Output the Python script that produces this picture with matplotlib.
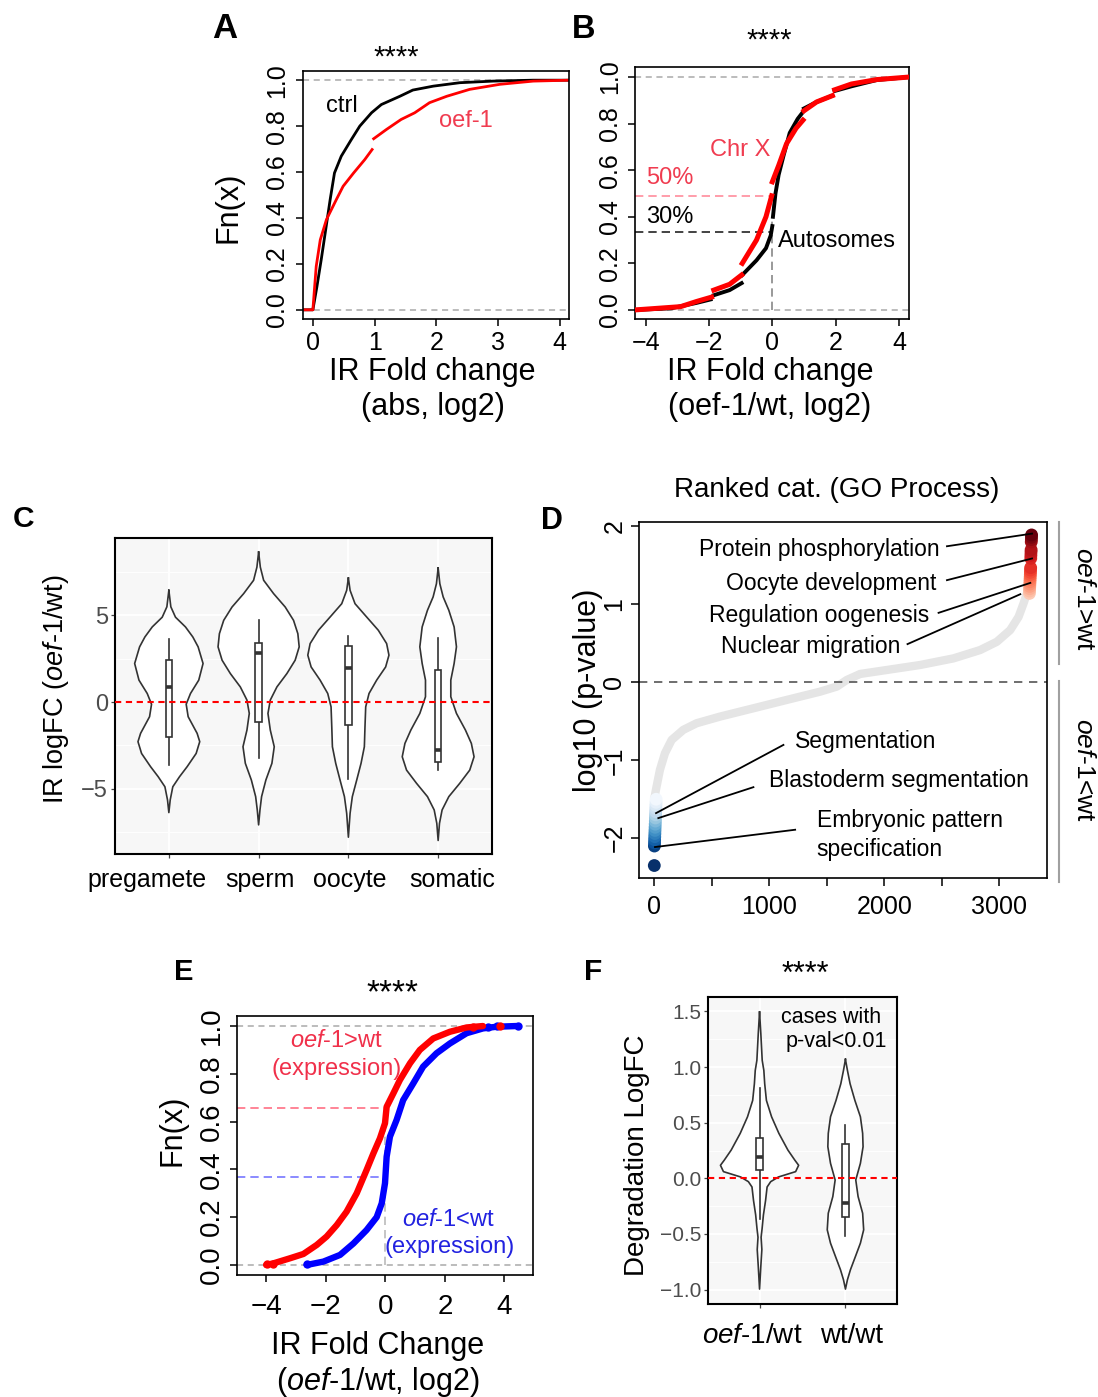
import numpy as np
import matplotlib
matplotlib.use('Agg')
import matplotlib.pyplot as plt
from matplotlib.patches import Rectangle
from matplotlib.transforms import ScaledTranslation

plt.rcParams['font.family'] = ['Liberation Sans', 'DejaVu Sans']
plt.rcParams['mathtext.fontset'] = 'custom'
plt.rcParams['mathtext.rm'] = 'Liberation Sans'
plt.rcParams['mathtext.it'] = 'Liberation Sans:italic'
plt.rcParams['mathtext.bf'] = 'Liberation Sans:bold'
plt.rcParams['axes.unicode_minus'] = True

nan = np.nan

# ---------------- Panel A : ECDF of |IR fold change| ----------------
a_ctrl_x = [-0.16, 0.0, 0.065, 0.135, 0.20, 0.28, 0.35, 0.46, 0.62, 0.76, 0.95, 1.11, 1.41, 1.62, 1.95, 2.38, 2.92, 3.57, 4.16]
a_ctrl_y = [0.0, 0.0, 0.10, 0.218, 0.335, 0.48, 0.596, 0.669, 0.74, 0.80, 0.858, 0.894, 0.93, 0.957, 0.974, 0.989, 0.996, 1.0, 1.0]
a_oef_x = [-0.16, 0.0, 0.054, 0.12, 0.22, 0.38, 0.49, 0.66, 0.84, 0.96, nan, 0.985, 1.19, 1.43, 1.65, 1.89, 2.17, 2.54, 3.03, 3.57, 4.16]
a_oef_y = [0.0, 0.0, 0.189, 0.305, 0.393, 0.48, 0.538, 0.596, 0.654, 0.698, nan, 0.745, 0.785, 0.829, 0.858, 0.902, 0.93, 0.96, 0.982, 0.996, 1.0]
a_ticks_x = [0, 1, 2, 3, 4]
ecdf_ticks_y = [0.0, 0.2, 0.4, 0.6, 0.8, 1.0]
ecdf_ticklabels_y = ['0.0', '0.2', '0.4', '0.6', '0.8', '1.0']

# ---------------- Panel B : ECDF oef-1/wt, autosomes vs Chr X ----------------
b_auto_x = [-4.34, -3.2, -2.4, -1.95, nan, -1.85, -1.35, -0.97, nan, -0.95, -0.5, -0.2, -0.05, 0.0, nan, 0.02, 0.1, 0.2, 0.35, 0.55, 0.8, 0.97, nan, 1.0, 1.4, 1.9, nan, 1.97, 2.5, 3.3, 4.33]
b_auto_y = [0.0, 0.007, 0.03, 0.045, nan, 0.063, 0.085, 0.115, nan, 0.15, 0.213, 0.265, 0.32, 0.36, nan, 0.40, 0.50, 0.58, 0.66, 0.76, 0.82, 0.85, nan, 0.865, 0.893, 0.92, nan, 0.94, 0.96, 0.987, 1.0]
b_chrx_x = [-4.34, -2.9, -2.4, -1.92, nan, -1.85, -1.35, -0.97, nan, -0.95, -0.5, -0.2, -0.02, nan, 0.0, 0.2, 0.45, 0.75, 0.97, nan, 1.0, 1.4, 1.9, nan, 1.97, 2.5, 3.3, 4.33]
b_chrx_y = [0.0, 0.014, 0.036, 0.055, nan, 0.085, 0.11, 0.15, nan, 0.20, 0.30, 0.40, 0.49, nan, 0.55, 0.62, 0.714, 0.78, 0.815, nan, 0.855, 0.893, 0.92, nan, 0.945, 0.97, 0.989, 1.0]
b_chrx_frac = 0.49
b_auto_frac = 0.335
b_ticks_x = [-4, -2, 0, 2, 4]

# ---------------- Panel C : violins of IR logFC by category ----------------
c_cats = ['pregamete', 'sperm', 'oocyte', 'somatic']
c_pre_y = [6.45, 5.5, 4.9, 4.34, 3.76, 3.19, 2.23, 1.27, 0.5, -0.12, -0.84, -1.8, -2.28, -2.96, -3.72, -4.3, -4.88, -5.64, -6.37]
c_pre_w = [0.0, 0.022, 0.074, 0.185, 0.267, 0.326, 0.381, 0.333, 0.241, 0.193, 0.215, 0.315, 0.344, 0.304, 0.204, 0.119, 0.044, 0.015, 0.0]
c_sp_y = [8.66, 7.79, 7.03, 6.26, 5.49, 4.72, 3.95, 3.19, 2.42, 1.65, 0.88, 0.12, -0.65, -1.61, -2.57, -3.53, -4.49, -5.45, -6.22, -7.08]
c_sp_w = [0.0, 0.019, 0.056, 0.167, 0.296, 0.389, 0.437, 0.452, 0.407, 0.315, 0.204, 0.13, 0.104, 0.13, 0.174, 0.148, 0.081, 0.033, 0.015, 0.0]
c_oo_y = [7.16, 6.45, 5.68, 4.91, 4.15, 3.38, 2.71, 2.03, 1.27, 0.5, -0.27, -1.42, -2.57, -3.53, -4.49, -5.45, -6.41, -7.79]
c_oo_w = [0.0, 0.019, 0.074, 0.204, 0.333, 0.426, 0.452, 0.415, 0.315, 0.23, 0.193, 0.185, 0.178, 0.141, 0.093, 0.044, 0.019, 0.0]
c_so_y = [7.74, 6.83, 6.07, 5.3, 4.34, 3.19, 2.23, 1.27, 0.31, -0.65, -1.61, -2.38, -3.15, -3.92, -4.68, -5.45, -6.22, -6.99, -7.98]
c_so_w = [0.0, 0.019, 0.056, 0.119, 0.178, 0.204, 0.178, 0.141, 0.141, 0.204, 0.304, 0.37, 0.40, 0.352, 0.241, 0.119, 0.044, 0.015, 0.0]
# box stats: whisker low, Q1, median, Q3, whisker high
c_box = [[-3.63, -2.03, 0.86, 2.46, 3.67],
         [-3.2, -1.13, 2.82, 3.42, 4.72],
         [-4.45, -1.34, 1.98, 3.26, 3.8],
         [-3.92, -3.47, -2.76, 1.88, 3.7]]
c_ticks_y = [-5, 0, 5]

# ---------------- Panel D : ranked GO categories ----------------
d_rank = [0, 20, 49, 93, 151, 252, 368, 571, 862, 1152, 1442, 1587, 1674, 1790, 2022, 2312, 2602, 2834, 2979, 3095, 3168, 3211, 3240, 3262]
d_val = [-1.49, -1.336, -1.123, -0.909, -0.739, -0.61, -0.525, -0.44, -0.333, -0.226, -0.12, -0.055, 0.03, 0.107, 0.158, 0.222, 0.307, 0.414, 0.52, 0.67, 0.84, 1.012, 1.14, 1.2]
d_up_rank = list(range(3262, 3282))
d_up_val = [1.14, 1.17, 1.20, 1.23, 1.26, 1.29, 1.32, 1.35, 1.38, 1.41, 1.44, 1.47, 1.59, 1.63, 1.67, 1.70, 1.80, 1.83, 1.86, 1.89]
d_dn_rank = list(range(0, 17))
d_dn_val = [-2.35, -2.10, -2.06, -2.02, -1.98, -1.94, -1.90, -1.86, -1.82, -1.78, -1.74, -1.70, -1.66, -1.62, -1.58, -1.54, -1.50]
d_ticks_x = [0, 500, 1000, 1500, 2000, 2500, 3000]
d_ticklabels_x = ['0', '', '1000', '', '2000', '', '3000']
d_ticks_y = [-2, -1, 0, 1, 2]
d_terms_up = ['Protein phosphorylation', 'Oocyte development', 'Regulation oogenesis', 'Nuclear migration']
d_terms_dn = ['Segmentation', 'Blastoderm segmentation', 'Embryonic pattern\nspecification']
# leader lines (label end -> point), data coords
d_lead_up = [[(2545, 1.745), (3285, 1.907)], [(2545, 1.31), (3285, 1.588)],
             [(2472, 0.891), (3270, 1.275)], [(2202, 0.49), (3183, 1.13)]]
d_lead_dn = [[(1123, -0.803), (15, -1.678)], [(862, -1.345), (35, -1.742)],
             [(1225, -1.891), (6, -2.113)]]

# ---------------- Panel E : ECDF by expression change ----------------
e_up_x = [-4.0, -3.75, -3.2, -2.75, -2.3, -1.97, -1.63, -1.3, -0.96, -0.63, -0.4, -0.18, -0.01, 0.045, 0.27, 0.49, 0.83, 1.16, 1.61, 2.17, 2.73, 3.28]
e_up_y = [0.0, 0.007, 0.028, 0.046, 0.084, 0.119, 0.167, 0.223, 0.30, 0.397, 0.467, 0.53, 0.593, 0.662, 0.718, 0.774, 0.844, 0.90, 0.948, 0.976, 0.994, 1.0]
e_dn_x = [-2.64, -2.08, -1.52, -1.07, -0.63, -0.29, -0.12, -0.01, 0.045, 0.156, 0.38, 0.6, 0.94, 1.27, 1.72, 2.17, 2.73, 3.28, 3.73, 4.4]
e_dn_y = [0.0, 0.014, 0.042, 0.09, 0.146, 0.20, 0.258, 0.342, 0.453, 0.537, 0.607, 0.69, 0.76, 0.83, 0.886, 0.927, 0.97, 0.99, 0.997, 1.0]
e_up_tail_x = [-3.98, -3.78, 2.95, 3.85]
e_up_tail_y = [0.002, 0.004, 0.998, 1.0]
e_dn_tail_x = [-2.64, 3.45, 3.75, 4.45]
e_dn_tail_y = [0.003, 0.997, 1.0, 1.0]
e_up_frac = 0.655
e_dn_frac = 0.367
e_ticks_x = [-4, -2, 0, 2, 4]

# ---------------- Panel F : degradation logFC violins ----------------
f_oef_y = [1.495, 1.30, 1.06, 0.97, 0.85, 0.70, 0.553, 0.404, 0.254, 0.164, 0.117, 0.06, 0.012, -0.03, -0.078, -0.2, -0.33, -0.45, -0.53, -0.64, -0.79, -0.996]
f_oef_w = [0.0, 0.015, 0.031, 0.05, 0.06, 0.08, 0.14, 0.225, 0.33, 0.41, 0.455, 0.42, 0.22, 0.13, 0.088, 0.07, 0.045, 0.03, 0.018, 0.027, 0.015, 0.0]
f_wt_y = [1.07, 0.97, 0.85, 0.70, 0.553, 0.404, 0.284, 0.135, -0.015, -0.164, -0.314, -0.463, -0.583, -0.703, -0.822, -0.912, -0.996]
f_wt_w = [0.0, 0.023, 0.054, 0.11, 0.174, 0.2, 0.205, 0.174, 0.12, 0.147, 0.2, 0.212, 0.174, 0.116, 0.058, 0.023, 0.0]
f_box = [[-0.37, 0.072, 0.19, 0.366, 0.81],
         [-0.52, -0.35, -0.22, 0.31, 0.476]]
f_cats = [r'$\mathit{oef}$-$\mathit{1}$/wt', 'wt/wt']
f_ticks_y = [-1.0, -0.5, 0.0, 0.5, 1.0, 1.5]
f_ticklabels_y = ['\u22121.0', '\u22120.5', '0.0', '0.5', '1.0', '1.5']

# =====================================================================
W, H = 1098, 1397
fig = plt.figure(figsize=(W / 100, H / 100), dpi=100)


def box(l, t, r, b):
    return fig.add_axes([l / W, 1 - b / H, (r - l) / W, (b - t) / H])


def T(x, y, s, size, ha='center', va='baseline', **kw):
    return fig.text(x / W, 1 - y / H, s, fontsize=size, ha=ha, va=va, **kw)


def base_style(ax, lab=18, length=5, pad=5):
    for sp in ax.spines.values():
        sp.set_linewidth(1.2)
    ax.tick_params(direction='out', length=length, width=1.1, labelsize=lab, pad=pad)


GRAYDASH = dict(color='#AAAAAA', lw=1.1, ls=(0, (4, 3)), zorder=0)

# ---------------- A ----------------
axA = box(303, 71, 569, 319)
base_style(axA)
axA.axhline(0, **GRAYDASH)
axA.axhline(1, **GRAYDASH)
axA.plot(a_ctrl_x, a_ctrl_y, color='black', lw=2.0)
axA.plot(a_oef_x, a_oef_y, color='#FF0000', lw=2.0)
axA.set_xlim(-0.16, 4.15)
axA.set_ylim(-0.04, 1.04)
axA.set_xticks(a_ticks_x)
axA.set_yticks(ecdf_ticks_y)
axA.set_yticklabels(ecdf_ticklabels_y, rotation=90, va='center')
axA.tick_params(axis='x', pad=4)
T(341.7, 111.7, 'ctrl', 17)
T(465.7, 126.7, 'oef-1', 17, color='#F03C50')
T(396, 66, '****', 21)
T(432.5, 380, 'IR Fold change', 22)
T(433, 415, '(abs, log2)', 22)
T(228, 207, 'Fn(x)', 22, va='center', rotation=90)
T(225, 38, 'A', 25, fontweight='bold')

# ---------------- B ----------------
axB = box(635, 67, 909, 319)
base_style(axB, pad=4)
axB.axhline(0, **GRAYDASH)
axB.axhline(1, **GRAYDASH)
xl = (-4.34, 4.32)
axB.plot([xl[0], 0], [b_chrx_frac, b_chrx_frac], color='#FF8C9C', lw=1.2, ls=(0, (5, 3)), zorder=1)
axB.plot([xl[0], 0], [b_auto_frac, b_auto_frac], color='#222222', lw=1.2, ls=(0, (5, 3)), zorder=1)
axB.plot([0, 0], [0, 0.40], color='#888888', lw=1.2, ls=(0, (5, 3)), zorder=1)
axB.plot(b_auto_x, b_auto_y, color='black', lw=2.8, zorder=2)
axB.plot(b_chrx_x, b_chrx_y, color='#FF0000', lw=3.6, zorder=3)
axB.set_xlim(*xl)
axB.set_ylim(-0.039, 1.043)
axB.set_xticks(b_ticks_x)
axB.set_xticklabels(['\u22124', '\u22122', '0', '2', '4'])
axB.set_yticks(ecdf_ticks_y)
axB.set_yticklabels(ecdf_ticklabels_y, rotation=90, va='center')
T(740, 155.7, 'Chr X', 17, color='#F03C50')
T(670, 184, '50%', 17, color='#F03C50')
T(670, 222.7, '30%', 17)
T(778.3, 246.7, 'Autosomes', 17, ha='left')
T(769, 49, '****', 21)
T(770.5, 380, 'IR Fold change', 22)
T(770, 415, '(oef-1/wt, log2)', 22)
T(584, 38, 'B', 23.5, fontweight='bold')


# ---------------- violin helper ----------------
def violin(ax, x0, ys, ws, q, bw, lw=1.2, medlw=2.6):
    ys = np.asarray(ys, float)
    ws = np.asarray(ws, float)
    ax.fill_betweenx(ys, x0 - ws, x0 + ws, facecolor='white', edgecolor='none', zorder=2)
    xs = np.concatenate([x0 - ws, (x0 + ws)[::-1]])
    yy = np.concatenate([ys, ys[::-1]])
    ax.plot(xs, yy, color='#333333', lw=lw, zorder=3, solid_joinstyle='round')
    lo, q1, med, q3, hi = q
    ax.plot([x0, x0], [lo, q1], color='#333333', lw=lw, zorder=4)
    ax.plot([x0, x0], [q3, hi], color='#333333', lw=lw, zorder=4)
    ax.add_patch(Rectangle((x0 - bw, q1), 2 * bw, q3 - q1, facecolor='white',
                           edgecolor='#333333', lw=lw, zorder=4))
    ax.plot([x0 - bw, x0 + bw], [med, med], color='#333333', lw=medlw, zorder=5,
            solid_capstyle='butt')


def gg_style(ax, lab, ylab):
    ax.set_facecolor('#F7F7F7')
    for sp in ax.spines.values():
        sp.set_linewidth(1.5)
        sp.set_color('black')
    ax.tick_params(direction='out', length=3, width=0.9, color='#444444',
                   labelsize=lab, pad=2)
    ax.tick_params(axis='y', labelcolor='#4D4D4D', labelsize=ylab)
    ax.grid(True, which='major', color='white', lw=1.3, zorder=0)
    ax.grid(True, which='minor', axis='y', color='white', lw=0.7, zorder=0)
    ax.set_axisbelow(True)


# ---------------- C ----------------
axC = box(115, 538, 492, 854)
gg_style(axC, 18, 17)
c_profiles = [(c_pre_y, c_pre_w), (c_sp_y, c_sp_w), (c_oo_y, c_oo_w), (c_so_y, c_so_w)]
for i, ((ys, ws), q) in enumerate(zip(c_profiles, c_box)):
    violin(axC, i + 1, ys, ws, q, bw=0.036)
axC.axhline(0, color='#FF0000', lw=1.5, ls=(0, (3, 2.2)), zorder=6)
axC.set_xlim(0.4, 4.6)
axC.set_ylim(-8.76, 9.47)
axC.set_yticks(c_ticks_y)
axC.set_yticks([-7.5, -2.5, 2.5, 7.5], minor=True)
axC.tick_params(axis='y', which='minor', length=0)
axC.set_yticklabels(['\u22125', '0', '5'])
axC.set_xticks(range(1, 5))
axC.set_xticklabels(c_cats)
axC.tick_params(axis='x', labelcolor='black', pad=7)
for lab, dx in zip(axC.get_xticklabels(), [-22, 1, 1, 14]):
    lab.set_transform(lab.get_transform() + ScaledTranslation(dx / 100, 0, fig.dpi_scale_trans))
T(56, 689, r'IR logFC ($\mathit{oef}$-$\mathit{1}$/wt)', 19.5, va='center', rotation=90)
T(24, 526.7, 'C', 21.5, fontweight='bold')

# ---------------- D ----------------
axD = box(639, 522, 1047, 878)
base_style(axD, pad=3, length=6)
axD.plot(d_rank, d_val, color='#E5E5E5', lw=6, solid_capstyle='round', zorder=1)
axD.axhline(0, color='#555555', lw=1.2, ls=(0, (5, 4)), zorder=2)
up_cols = plt.cm.Reds(np.linspace(0.2, 1.0, len(d_up_val)))
dn_cols = plt.cm.Blues(np.linspace(1.0, 0.03, len(d_dn_val)))
axD.scatter(d_up_rank, d_up_val, s=85, c=up_cols, edgecolors='none', zorder=3)
axD.scatter(d_dn_rank, d_dn_val, s=85, c=dn_cols, edgecolors='none', zorder=3)
for (p0, p1) in d_lead_up + d_lead_dn:
    axD.plot([p0[0], p1[0]], [p0[1], p1[1]], color='black', lw=1.3, zorder=4)
axD.set_xlim(-133, 3415)
axD.set_ylim(-2.51, 2.056)
axD.set_xticks(d_ticks_x)
axD.set_xticklabels(d_ticklabels_x)
axD.tick_params(axis='x', pad=6)
axD.set_yticks(d_ticks_y)
axD.set_yticklabels(['\u22122', '\u22121', '0', '1', '2'], rotation=90, va='center')
for s, xr, yb in zip(d_terms_up, [940, 936.7, 929, 900], [556, 590, 621.7, 652.7]):
    T(xr, yb, s, 16.5, ha='right')
T(795, 747.7, d_terms_dn[0], 16.5, ha='left')
T(769, 786.7, d_terms_dn[1], 16.5, ha='left')
T(816.7, 827.3, d_terms_dn[2].split('\n')[0], 16.5, ha='left')
T(816.7, 855.7, d_terms_dn[2].split('\n')[1], 16.5, ha='left')
T(836.7, 497.3, 'Ranked cat. (GO Process)', 20)
T(588, 690, 'log10 (p-value)', 22, va='center', rotation=90)
T(552, 529, 'D', 22, fontweight='bold')
# side brackets
fig.add_artist(plt.Line2D([1059 / W, 1059 / W], [1 - 522 / H, 1 - 664 / H], color='#A0A0A0', lw=1.5))
fig.add_artist(plt.Line2D([1059 / W, 1059 / W], [1 - 681 / H, 1 - 882 / H], color='#A0A0A0', lw=1.5))
T(1084, 599, r'$\mathit{oef}$-$\mathit{1}$>wt', 19, va='center', rotation=270)
T(1084, 770, r'$\mathit{oef}$-$\mathit{1}$<wt', 19, va='center', rotation=270)

# ---------------- E ----------------
axE = box(237, 1016, 533, 1275)
base_style(axE, lab=20, pad=4)
axE.axhline(0, **GRAYDASH)
axE.axhline(1, **GRAYDASH)
axE.plot([-4.98, 0], [e_up_frac, e_up_frac], color='#FF6F84', lw=1.2, ls=(0, (5, 3)), zorder=1)
axE.plot([-4.98, 0], [e_dn_frac, e_dn_frac], color='#7777FF', lw=1.2, ls=(0, (5, 3)), zorder=1)
axE.plot([0, 0], [0, e_up_frac], color='#BBBBBB', lw=1.2, ls=(0, (5, 3)), zorder=1)
axE.plot(e_dn_x, e_dn_y, color='#0000FF', lw=4.6, zorder=2, solid_capstyle='round', solid_joinstyle='round')
axE.plot(e_dn_tail_x, e_dn_tail_y, 'o', color='#0000FF', ms=5, zorder=2)
axE.plot(e_up_x, e_up_y, color='#FF0000', lw=4.6, zorder=3, solid_capstyle='round', solid_joinstyle='round')
axE.plot(e_up_tail_x, e_up_tail_y, 'o', color='#FF0000', ms=5, zorder=3)
axE.set_xlim(-4.98, 4.96)
axE.set_ylim(-0.042, 1.042)
axE.set_xticks(e_ticks_x)
axE.set_xticklabels(['\u22124', '\u22122', '0', '2', '4'])
axE.tick_params(axis='x', pad=9)
axE.set_yticks(ecdf_ticks_y)
axE.set_yticklabels(ecdf_ticklabels_y, rotation=90, va='center')
T(336.7, 1047.3, r'$\mathit{oef}$-$\mathit{1}$>wt', 17, color='#F0304A')
T(336.7, 1075, '(expression)', 17, color='#F0304A')
T(449, 1226, r'$\mathit{oef}$-$\mathit{1}$<wt', 17, color='#2222E0')
T(449.3, 1253.3, '(expression)', 17, color='#2222E0')
T(392.7, 1002, '****', 24)
T(377.5, 1354, 'IR Fold Change', 22)
T(378.3, 1390, r'($\mathit{oef}$-$\mathit{1}$/wt, log2)', 22)
T(173, 1130, 'Fn(x)', 22, va='center', rotation=90)
T(183.3, 980, 'E', 21, fontweight='bold')

# ---------------- F ----------------
axF = box(708, 997, 897, 1304)
gg_style(axF, 20, 15)
for i, ((ys, ws), q) in enumerate(zip([(f_oef_y, f_oef_w), (f_wt_y, f_wt_w)], f_box)):
    violin(axF, i + 1, ys, ws, q, bw=0.039)
axF.axhline(0, color='#FF0000', lw=1.5, ls=(0, (3, 2.2)), zorder=6)
axF.set_xlim(0.4, 2.6)
axF.set_ylim(-1.13, 1.63)
axF.set_yticks(f_ticks_y)
axF.set_yticklabels(f_ticklabels_y)
axF.set_yticks([-0.75, -0.25, 0.25, 0.75, 1.25], minor=True)
axF.tick_params(axis='y', which='minor', length=0)
axF.set_xticks([1, 2])
axF.set_xticklabels(f_cats)
axF.tick_params(axis='x', labelcolor='black', pad=11)
for lab, dx in zip(axF.get_xticklabels(), [-7.6, 6]):
    lab.set_transform(lab.get_transform() + ScaledTranslation(dx / 100, 0, fig.dpi_scale_trans))
T(831.3, 1022.7, 'cases with', 15.5)
T(836.7, 1046.7, 'p-val<0.01', 15.5)
T(805.7, 983, '****', 22)
T(637, 1155, 'Degradation LogFC', 20, va='center', rotation=90)
T(593, 980, 'F', 21.5, fontweight='bold')

fig.savefig('out.png', dpi=100)
